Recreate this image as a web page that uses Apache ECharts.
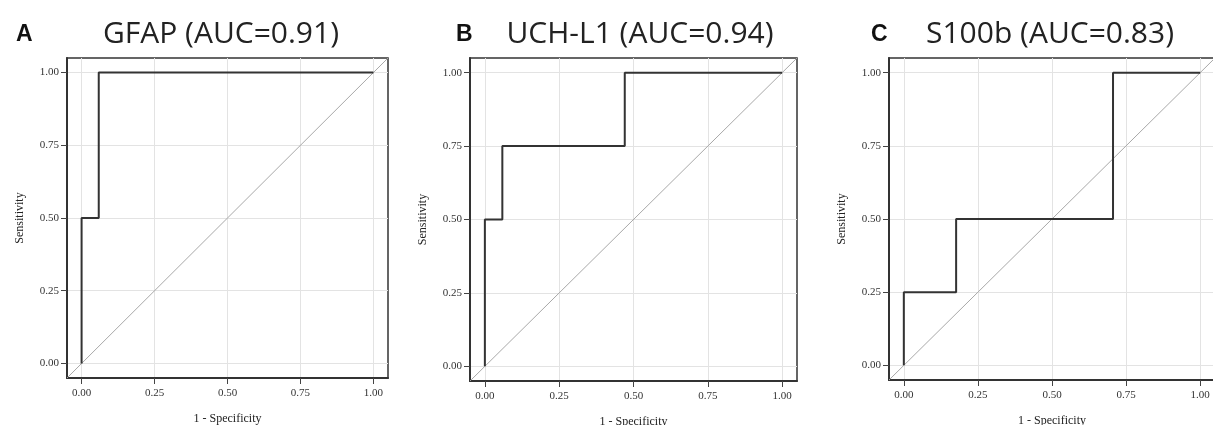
<!DOCTYPE html>
<html>
<head>
<meta charset="utf-8">
<script src="https://cdn.jsdelivr.net/npm/echarts@6/dist/echarts.min.js"></script>
<style>
html,body{margin:0;padding:0;background:#fff;}
#chart{width:1213px;height:425px;}
</style>
</head>
<body>
<div id="chart"></div>
<script>
// ---- data ----
const tickValues = [0, 0.25, 0.5, 0.75, 1];
const axisRange = [-0.05, 1.05];
const panelLetters = ['A', 'B', 'C'];
const panelTitles = ['GFAP (AUC=0.91)', 'UCH-L1 (AUC=0.94)', 'S100b (AUC=0.83)'];
const gfapFpr = [0, 0, 0.0588, 0.0588, 1];
const gfapTpr = [0, 0.5, 0.5, 1, 1];
const uchFpr = [0, 0, 0.0588, 0.0588, 0.4706, 0.4706, 1];
const uchTpr = [0, 0.5, 0.5, 0.75, 0.75, 1, 1];
const s100Fpr = [0, 0, 0.1765, 0.1765, 0.7059, 0.7059, 1];
const s100Tpr = [0, 0.25, 0.25, 0.5, 0.5, 1, 1];
const refX = [-0.05, 1.05];
const refY = [-0.05, 1.05];
const xName = '1 - Specificity';
const yName = 'Sensitivity';

const curves = [[gfapFpr, gfapTpr], [uchFpr, uchTpr], [s100Fpr, s100Tpr]];
const grids = [
  {left: 67, top: 58, width: 321, height: 320},
  {left: 470, top: 58, width: 327, height: 323},
  {left: 889, top: 58, width: 326, height: 322}
];
const titlePos = [216, 635, 1045];
const letterPos = [11, 451, 866];

const serif = '"Liberation Serif","DejaVu Serif",serif';
const option = {
  animation: false,
  backgroundColor: '#fff',
  title: [],
  grid: [], xAxis: [], yAxis: [], series: []
};
grids.forEach((g, i) => {
  option.grid.push(Object.assign({show: true, borderColor: '#333', borderWidth: 1.5, backgroundColor: '#fff', containLabel: false, outerBoundsMode: 'none'}, g));
  const common = {
    type: 'value', min: axisRange[0], max: axisRange[1], gridIndex: i,
    axisLine: {show: true, onZero: false, lineStyle: {color: '#333', width: 2}},
    axisTick: {show: true, customValues: tickValues, length: 6, lineStyle: {color: '#444'}},
    axisLabel: {customValues: tickValues, formatter: v => v.toFixed(2), fontFamily: serif, fontSize: 11, color: '#333'},
    splitLine: {show: true, lineStyle: {color: '#e3e3e3', width: 1}},
    nameLocation: 'middle',
    nameTextStyle: {fontFamily: serif, fontSize: 12, color: '#222'}
  };
  option.xAxis.push(Object.assign({}, common, {name: xName, nameGap: 35, axisLabel: Object.assign({}, common.axisLabel, {margin: 10})}));
  option.yAxis.push(Object.assign({}, common, {name: yName, nameGap: 41, axisLabel: Object.assign({}, common.axisLabel, {margin: 8})}));
  option.series.push({
    type: 'line', xAxisIndex: i, yAxisIndex: i, symbol: 'none', silent: true,
    data: refX.map((x, k) => [x, refY[k]]),
    lineStyle: {color: '#a8a8a8', width: 1}
  });
  option.series.push({
    type: 'line', xAxisIndex: i, yAxisIndex: i, symbol: 'none', silent: true,
    data: curves[i][0].map((x, k) => [x, curves[i][1][k]]),
    lineStyle: {color: '#333', width: 2}
  });
  option.title.push({
    text: panelTitles[i], left: titlePos[i], top: 14, textAlign: 'center',
    textStyle: {fontFamily: '"Open Sans",sans-serif', fontWeight: 'normal', fontSize: 30, color: '#222'}
  });
  option.title.push({
    text: panelLetters[i], left: letterPos[i], top: 18,
    textStyle: {fontFamily: '"Liberation Sans",Arial,sans-serif', fontWeight: 'bold', fontSize: 23, color: '#111'}
  });
});
const chart = echarts.init(document.getElementById('chart'), null, {renderer: 'canvas'});
chart.setOption(option);
</script>
</body>
</html>
